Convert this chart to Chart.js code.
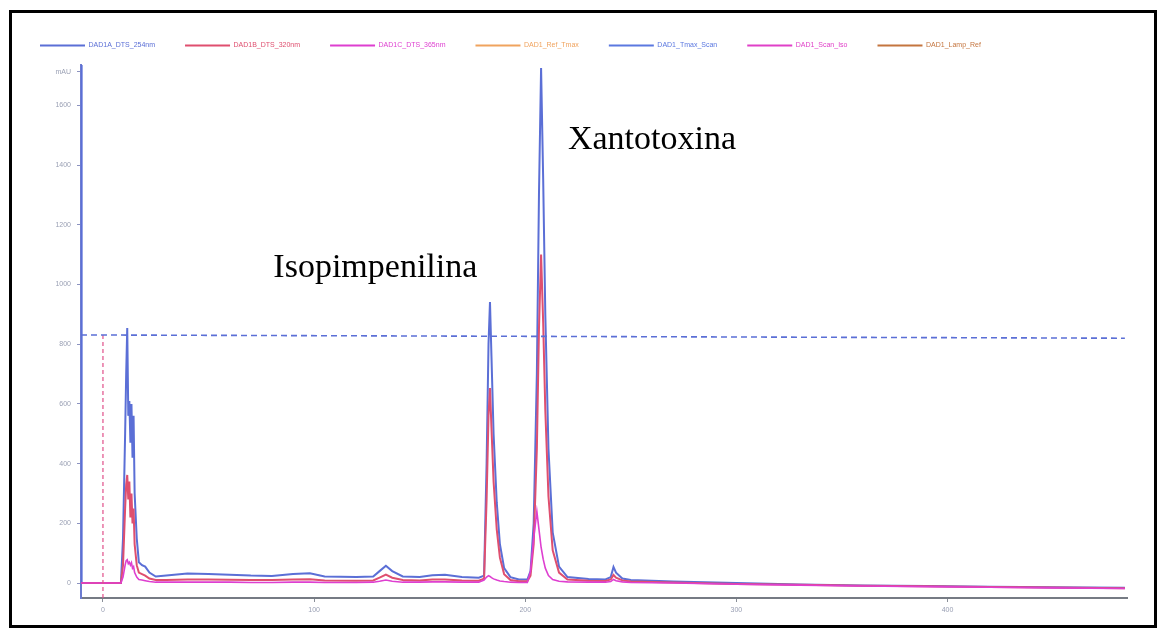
<!DOCTYPE html>
<html>
<head>
<meta charset="utf-8">
<title>Cromatograma</title>
<script src="https://cdn.jsdelivr.net/npm/chart.js@4.4.1/dist/chart.umd.min.js"></script>
<style>
    html, body { margin: 0; padding: 0; background: #fff; }
    #wrap { position: relative; width: 1165px; height: 635px; }
    #chart { position: absolute; left: 0; top: 0; }
    #frame {
        position: absolute; left: 9px; top: 10px; width: 1148px; height: 618px;
        border: 3px solid #000; box-sizing: border-box; pointer-events: none;
    }
</style>
</head>
<body>
<div id="wrap">
    <canvas id="chart" width="1165" height="635"></canvas>
    <div id="frame"></div>
</div>
<script>
// --- Data ---
const seriesNames = ['DAD1A_DTS_254nm', 'DAD1B_DTS_320nm', 'DAD1C_DTS_365nm', 'DAD1_Ref_Tmax',
                     'DAD1_Tmax_Scan', 'DAD1_Scan_Iso', 'DAD1_Lamp_Ref'];
const seriesColors = ['#5b6fd6', '#df4f6f', '#de3fd0', '#f0a35e', '#5b78e0', '#e040c8', '#c4753f'];

const time = [-10.4, -10.1, 8.5, 9.5, 10.5, 11, 11.5, 12, 12.5, 13, 13.5, 14, 14.5, 15, 16, 17, 18.5, 20,
    22, 25, 30, 40, 50, 60, 70, 80, 90, 98, 105, 120, 128, 131, 134, 137, 142, 150, 156, 162, 170, 178,
    180.5, 181.7, 182.6, 183.3, 184, 185, 186.5, 188, 190, 193, 197, 201, 202.5, 204, 205.5, 206.5, 207.5,
    208.5, 209.5, 211, 213, 216, 220, 230, 238, 240.5, 241.8, 243, 246, 250, 270, 300, 330, 360, 390, 420,
    450, 484];
const blue254 = [1800, 0, 0, 150, 500, 700, 854, 560, 610, 470, 600, 420, 560, 300, 150, 70, 60, 55,
    35, 22, 25, 32, 30, 28, 25, 24, 30, 33, 22, 20, 22, 40, 58, 40, 22, 20, 26, 28, 20, 18,
    25, 400, 800, 941, 760, 500, 270, 130, 50, 20, 12, 12, 40, 200, 700, 1300, 1725,
    1350, 900, 450, 170, 55, 20, 14, 12, 20, 54, 35, 15, 10, 5, 0, -5, -8, -10, -12,
    -14, -16];
const red320 = [0, 0, 0, 60, 250, 330, 362, 280, 340, 220, 300, 200, 250, 130, 60, 35, 30, 25,
    15, 10, 10, 12, 12, 11, 10, 10, 12, 13, 9, 8, 9, 18, 28, 18, 10, 9, 12, 12, 9, 8,
    15, 280, 560, 653, 520, 340, 180, 85, 30, 10, 6, 6, 25, 130, 450, 850, 1100,
    870, 580, 290, 110, 35, 12, 8, 7, 12, 27, 18, 9, 5, 2, -3, -6, -9, -11, -13,
    -15, -17];
const magenta365 = [0, 0, 0, 20, 60, 75, 78, 65, 70, 60, 68, 50, 55, 35, 20, 12, 10, 8,
    5, 3, 3, 3, 3, 3, 2, 2, 3, 3, 2, 2, 3, 6, 10, 6, 3, 3, 4, 4, 3, 3,
    10, 20, 25, 22, 18, 14, 10, 7, 5, 3, 2, 2, 40, 150, 240, 180, 120,
    80, 50, 25, 12, 6, 4, 3, 3, 5, 12, 8, 4, 2, 0, -4, -7, -10, -12, -14,
    -16, -18];

// reference lines (dashed) and peak names
const refLevel = [831, 820];       // horizontal dashed line, start / end
const refTime = 0;                 // vertical dashed marker
const peakNames = ['Isopimpenilina', 'Xantotoxina'];
const peakLabelPos = [[129, 1055], [260, 1484]];

// axis ticks
const xTicks = [0, 100, 200, 300, 400];
const yTicks = [0, 200, 400, 600, 800, 1000, 1200, 1400, 1600];
const yUnit = 'mAU';
const yUnitAt = 1712;

const toPoints = (vals) => time.map((t, i) => ({ x: t, y: vals[i] }));

document.addEventListener('DOMContentLoaded', () => {
    const ctx = document.getElementById('chart');

    const traces = [blue254, red320, magenta365];
    const datasets = seriesNames.map((name, i) => ({
        label: name,
        data: traces[i] ? toPoints(traces[i]) : [],
        borderColor: seriesColors[i],
        backgroundColor: seriesColors[i],
        borderWidth: i === 2 ? 1.6 : 2,
        pointRadius: 0,
        tension: 0,
        order: 10 - i
    }));

    // dashed helper lines, kept out of the legend
    datasets.push({
        label: 'ref-h',
        data: [{ x: -10.4, y: refLevel[0] }, { x: 484, y: refLevel[1] }],
        borderColor: '#5b6fd6',
        borderWidth: 1.6,
        borderDash: [6, 4],
        pointRadius: 0
    });
    datasets.push({
        label: 'ref-v',
        data: [{ x: refTime, y: refLevel[0] }, { x: refTime, y: -50 }],
        borderColor: '#e0508a',
        borderWidth: 1.2,
        borderDash: [4, 3],
        pointRadius: 0
    });

    // Peak names written at data coordinates
    const peakText = {
        id: 'peakText',
        afterDatasetsDraw(chart) {
            const { ctx: c, scales: { x, y } } = chart;
            c.save();
            c.font = '34px "Liberation Serif", "Times New Roman", serif';
            c.fillStyle = '#000';
            c.textAlign = 'center';
            c.textBaseline = 'middle';
            peakNames.forEach((name, i) => {
                c.fillText(name, x.getPixelForValue(peakLabelPos[i][0]), y.getPixelForValue(peakLabelPos[i][1]));
            });
            c.restore();
        }
    };

    // Fix the legend block height so the plot starts where the original does
    const legendHeight = {
        id: 'legendHeight',
        afterInit(chart) {
            const legend = chart.legend;
            if (!legend) return;
            const origFit = legend.fit;
            legend.fit = function () {
                origFit.call(this);
                this.height = 53;
            };
        }
    };

    new Chart(ctx, {
        type: 'line',
        data: { datasets: datasets },
        options: {
            responsive: false,
            animation: false,
            layout: { padding: { top: 12, right: 38, left: 10, bottom: 0 } },
            plugins: {
                tooltip: { enabled: false },
                legend: {
                    align: 'start',
                    labels: {
                        boxWidth: 45,
                        boxHeight: 2,
                        padding: 30,
                        font: { size: 7, family: 'Arial, "Liberation Sans", sans-serif' },
                        filter: (item) => item.datasetIndex < seriesNames.length,
                        generateLabels: (chart) => chart.data.datasets.map((ds, i) => ({
                            text: ds.label,
                            fillStyle: ds.borderColor,
                            strokeStyle: ds.borderColor,
                            fontColor: ds.borderColor,
                            lineWidth: 0,
                            hidden: false,
                            datasetIndex: i
                        }))
                    }
                }
            },
            scales: {
                x: {
                    type: 'linear',
                    min: -10.4,
                    max: 485,
                    afterBuildTicks: (scale) => { scale.ticks = xTicks.map(v => ({ value: v })); },
                    afterFit: (scale) => { scale.height = 37; },
                    grid: { drawOnChartArea: false, tickLength: 4, color: '#8a8f98' },
                    border: { color: '#767b84', width: 2 },
                    ticks: { color: '#9aa0b4', font: { size: 7 }, padding: 4, autoSkip: false, maxRotation: 0 }
                },
                y: {
                    min: -50,
                    max: 1735,
                    afterBuildTicks: (scale) => {
                        scale.ticks = yTicks.map(v => ({ value: v })).concat([{ value: yUnitAt }]);
                    },
                    afterFit: (scale) => { scale.width = 71; },
                    grid: { drawOnChartArea: false, tickLength: 4, color: '#8c93c0' },
                    border: { color: '#6c7bd0', width: 2 },
                    ticks: {
                        color: '#9aa0b4',
                        font: { size: 7 },
                        padding: 6,
                        autoSkip: false,
                        callback: (value) => value === yUnitAt ? yUnit : value
                    }
                }
            }
        },
        plugins: [peakText, legendHeight]
    });
});
</script>
</body>
</html>
